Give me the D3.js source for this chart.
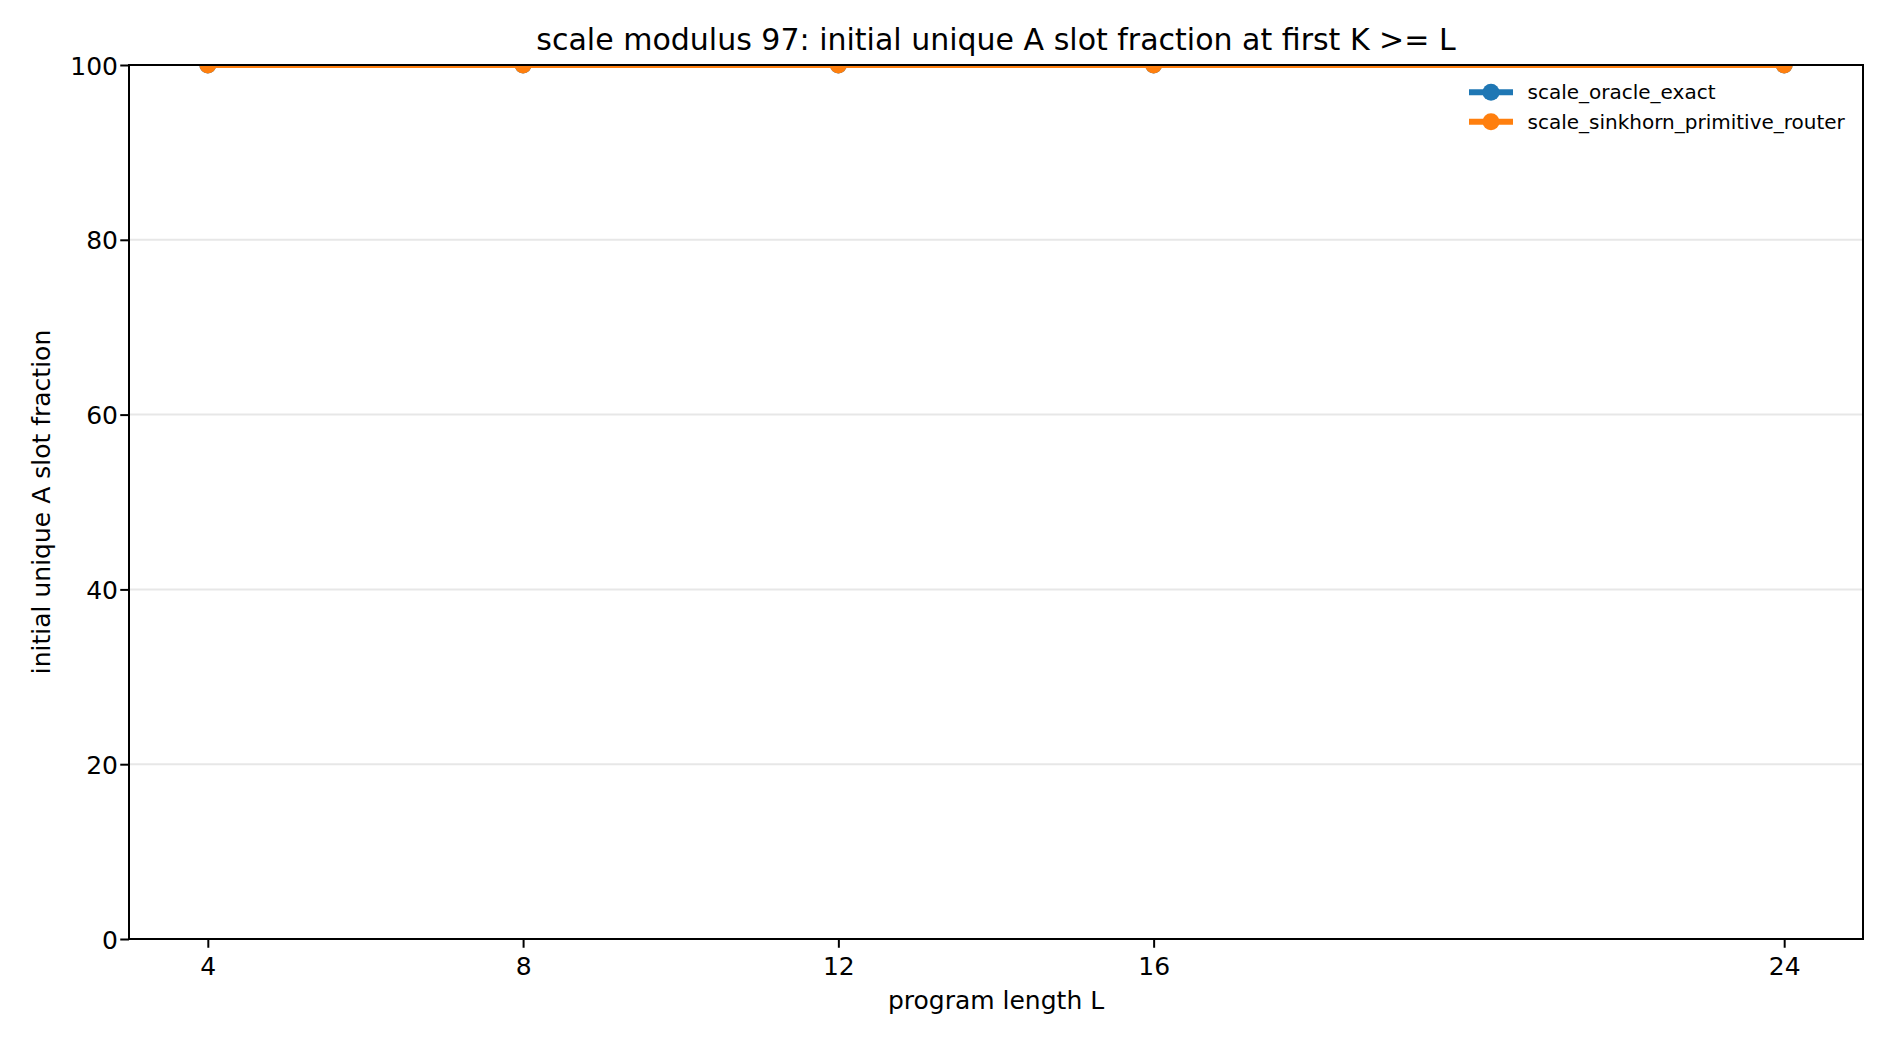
<!DOCTYPE html>
<html>
<head>
<meta charset="utf-8">
<script src="https://cdn.jsdelivr.net/npm/d3@7/dist/d3.min.js"></script>
<style>
  html, body { margin: 0; padding: 0; background: #fff; }
  svg { display: block; font-family: "DejaVu Sans", sans-serif; }
</style>
</head>
<body>
<svg id="chart" width="1890" height="1044"></svg>
<script>
const programLengths = [4, 8, 12, 16, 24];
const oracleExact = [100, 100, 100, 100, 100];
const sinkhornRouter = [100, 100, 100, 100, 100];
const seriesNames = ["scale_oracle_exact", "scale_sinkhorn_primitive_router"];
const seriesColors = ["#1f77b4", "#ff7f0e"];
const yTicks = [0, 20, 40, 60, 80, 100];
const xTicks = [4, 8, 12, 16, 24];
const titleText = "scale modulus 97: initial unique A slot fraction at first K >= L";
const xLabelText = "program length L";
const yLabelText = "initial unique A slot fraction";

const svg = d3.select("#chart");
const m = { left: 129, right: 1863, top: 65, bottom: 939 };

const x = d3.scaleLinear().domain([3, 25]).range([m.left, m.right]);
const y = d3.scaleLinear().domain([0, 100]).range([m.bottom, m.top]);

svg.append("rect").attr("width", 1890).attr("height", 1044).attr("fill", "#fff");

// clip
svg.append("clipPath").attr("id", "plotclip")
  .append("rect").attr("x", m.left).attr("y", m.top)
  .attr("width", m.right - m.left).attr("height", m.bottom - m.top);

// grid
svg.append("g").selectAll("line").data(yTicks).join("line")
  .attr("x1", m.left).attr("x2", m.right)
  .attr("y1", d => y(d)).attr("y2", d => y(d))
  .attr("stroke", "#b0b0b0").attr("stroke-opacity", 0.3).attr("stroke-width", 2);

// series
const series = [oracleExact, sinkhornRouter];
const plot = svg.append("g").attr("clip-path", "url(#plotclip)");
const line = d3.line().x((d, i) => x(programLengths[i])).y(d => y(d));
series.forEach((vals, si) => {
  plot.append("path").datum(vals)
    .attr("d", line).attr("fill", "none")
    .attr("stroke", seriesColors[si]).attr("stroke-width", 6)
    .attr("stroke-linejoin", "round").attr("stroke-linecap", "butt");
  plot.append("g").selectAll("circle").data(vals).join("circle")
    .attr("cx", (d, i) => x(programLengths[i])).attr("cy", d => y(d))
    .attr("r", 8.5).attr("fill", seriesColors[si]);
});

// axes via d3
const xAxis = d3.axisBottom(x).tickValues(xTicks).tickFormat(d3.format("d"))
  .tickSize(8.75).tickPadding(8.75);
const yAxis = d3.axisLeft(y).tickValues(yTicks).tickFormat(d3.format("d"))
  .tickSize(8.75).tickPadding(8.75);

const gx = svg.append("g").attr("transform", `translate(0,${m.bottom})`).call(xAxis);
const gy = svg.append("g").attr("transform", `translate(${m.left},0)`).call(yAxis);
[gx, gy].forEach(g => {
  g.select(".domain").remove();
  g.selectAll(".tick line").attr("stroke", "#000").attr("stroke-width", 2);
  g.selectAll(".tick text").attr("fill", "#000")
    .attr("font-size", 25).attr("font-family", "DejaVu Sans");
});
gx.selectAll(".tick text").attr("dy", null).attr("y", 36).attr("dominant-baseline", "auto");
gy.selectAll(".tick text").attr("dy", null).attr("y", 9).attr("x", -11);

// spines
svg.append("rect").attr("x", m.left).attr("y", m.top)
  .attr("width", m.right - m.left).attr("height", m.bottom - m.top)
  .attr("fill", "none").attr("stroke", "#000").attr("stroke-width", 2);

// title & labels
svg.append("text").attr("x", (m.left + m.right) / 2).attr("y", 50)
  .attr("text-anchor", "middle").attr("font-size", 30).attr("fill", "#000")
  .text(titleText);
svg.append("text").attr("x", (m.left + m.right) / 2).attr("y", 1009)
  .attr("text-anchor", "middle").attr("font-size", 25).attr("fill", "#000")
  .text(xLabelText);
svg.append("text")
  .attr("transform", `translate(50,${(m.top + m.bottom) / 2}) rotate(-90)`)
  .attr("text-anchor", "middle").attr("font-size", 25).attr("fill", "#000")
  .text(yLabelText);

// legend
const legend = svg.append("g");
seriesNames.forEach((name, i) => {
  const cy = 92.3 + i * 29.4;
  legend.append("line").attr("x1", 1469).attr("x2", 1513)
    .attr("y1", cy).attr("y2", cy)
    .attr("stroke", seriesColors[i]).attr("stroke-width", 6);
  legend.append("circle").attr("cx", 1491).attr("cy", cy).attr("r", 8.5)
    .attr("fill", seriesColors[i]);
  legend.append("text").attr("x", 1527.5).attr("y", cy + 7)
    .attr("font-size", 20).attr("fill", "#000").text(name);
});
</script>
</body>
</html>
